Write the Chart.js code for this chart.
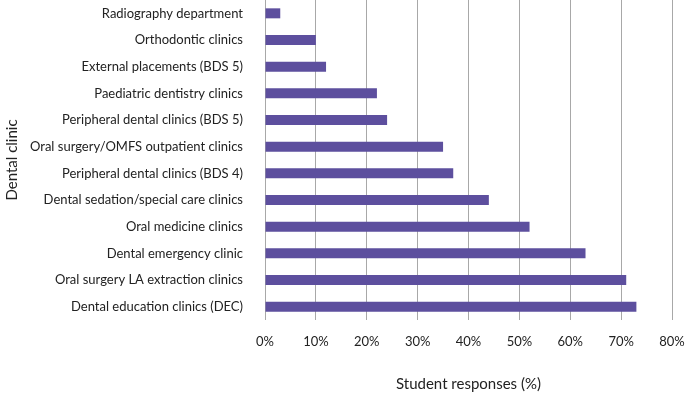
<!DOCTYPE html>
<html>
<head>
<meta charset="utf-8">
<script src="https://cdn.jsdelivr.net/npm/chart.js@4"></script>
<style>
  html, body { margin: 0; padding: 0; background: #fff; }
  #wrap { width: 685px; height: 393px; }
</style>
</head>
<body>
<div id="wrap"><canvas id="chart"></canvas></div>
<script>
// Clinic names, top to bottom as drawn
const clinics = [
    'Radiography department',
    'Orthodontic clinics',
    'External placements (BDS 5)',
    'Paediatric dentistry clinics',
    'Peripheral dental clinics (BDS 5)',
    'Oral surgery/OMFS outpatient clinics',
    'Peripheral dental clinics (BDS 4)',
    'Dental sedation/special care clinics',
    'Oral medicine clinics',
    'Dental emergency clinic',
    'Oral surgery LA extraction clinics',
    'Dental education clinics (DEC)'
];

// Student responses (%)
const responses = [3, 10, 12, 22, 24, 35, 37, 44, 52, 63, 71, 73];

// Axis range
const xMin = 0;
const xMax = 80;
const xStep = 10;

const fontFamily = 'Lato, "Open Sans", sans-serif';
const textColor = '#222';
const gridColor = '#a8a8a8';

const ctx = document.getElementById('chart').getContext('2d');

new Chart(ctx, {
    type: 'bar',
    data: {
        labels: clinics,
        datasets: [{
            data: responses,
            backgroundColor: '#5d4f9e',
            borderWidth: 0,
            categoryPercentage: 1,
            barPercentage: 0.375
        }]
    },
    options: {
        indexAxis: 'y',
        responsive: true,
        maintainAspectRatio: false,
        animation: false,
        layout: {
            padding: 0
        },
        plugins: {
            legend: { display: false },
            tooltip: { enabled: false }
        },
        scales: {
            x: {
                min: xMin,
                max: xMax,
                grid: {
                    color: gridColor,
                    lineWidth: 1,
                    drawTicks: false
                },
                border: { display: false },
                ticks: {
                    stepSize: xStep,
                    padding: 14,
                    color: textColor,
                    font: { family: fontFamily, size: 13 },
                    callback: (value) => `${value}%`
                },
                title: {
                    display: true,
                    text: 'Student responses (%)',
                    color: textColor,
                    font: { family: fontFamily, size: 15 },
                    padding: { top: 4, bottom: 0 }
                },
                afterFit: (scale) => {
                    // pin the plot box to the reference frame
                    scale.height = 73;
                    scale.paddingLeft = 0;
                    scale.paddingRight = 13;
                }
            },
            y: {
                grid: { display: false, drawTicks: false },
                border: { display: false },
                ticks: {
                    padding: 22,
                    color: textColor,
                    font: { family: fontFamily, size: 13 }
                },
                title: {
                    display: true,
                    text: 'Dental clinic',
                    color: textColor,
                    font: { family: fontFamily, size: 15 },
                    padding: { top: 3, bottom: 0 }
                },
                afterFit: (scale) => {
                    scale.width = 265;
                    scale.paddingTop = 0;
                    scale.paddingBottom = 0;
                }
            }
        }
    }
});
</script>
</body>
</html>
